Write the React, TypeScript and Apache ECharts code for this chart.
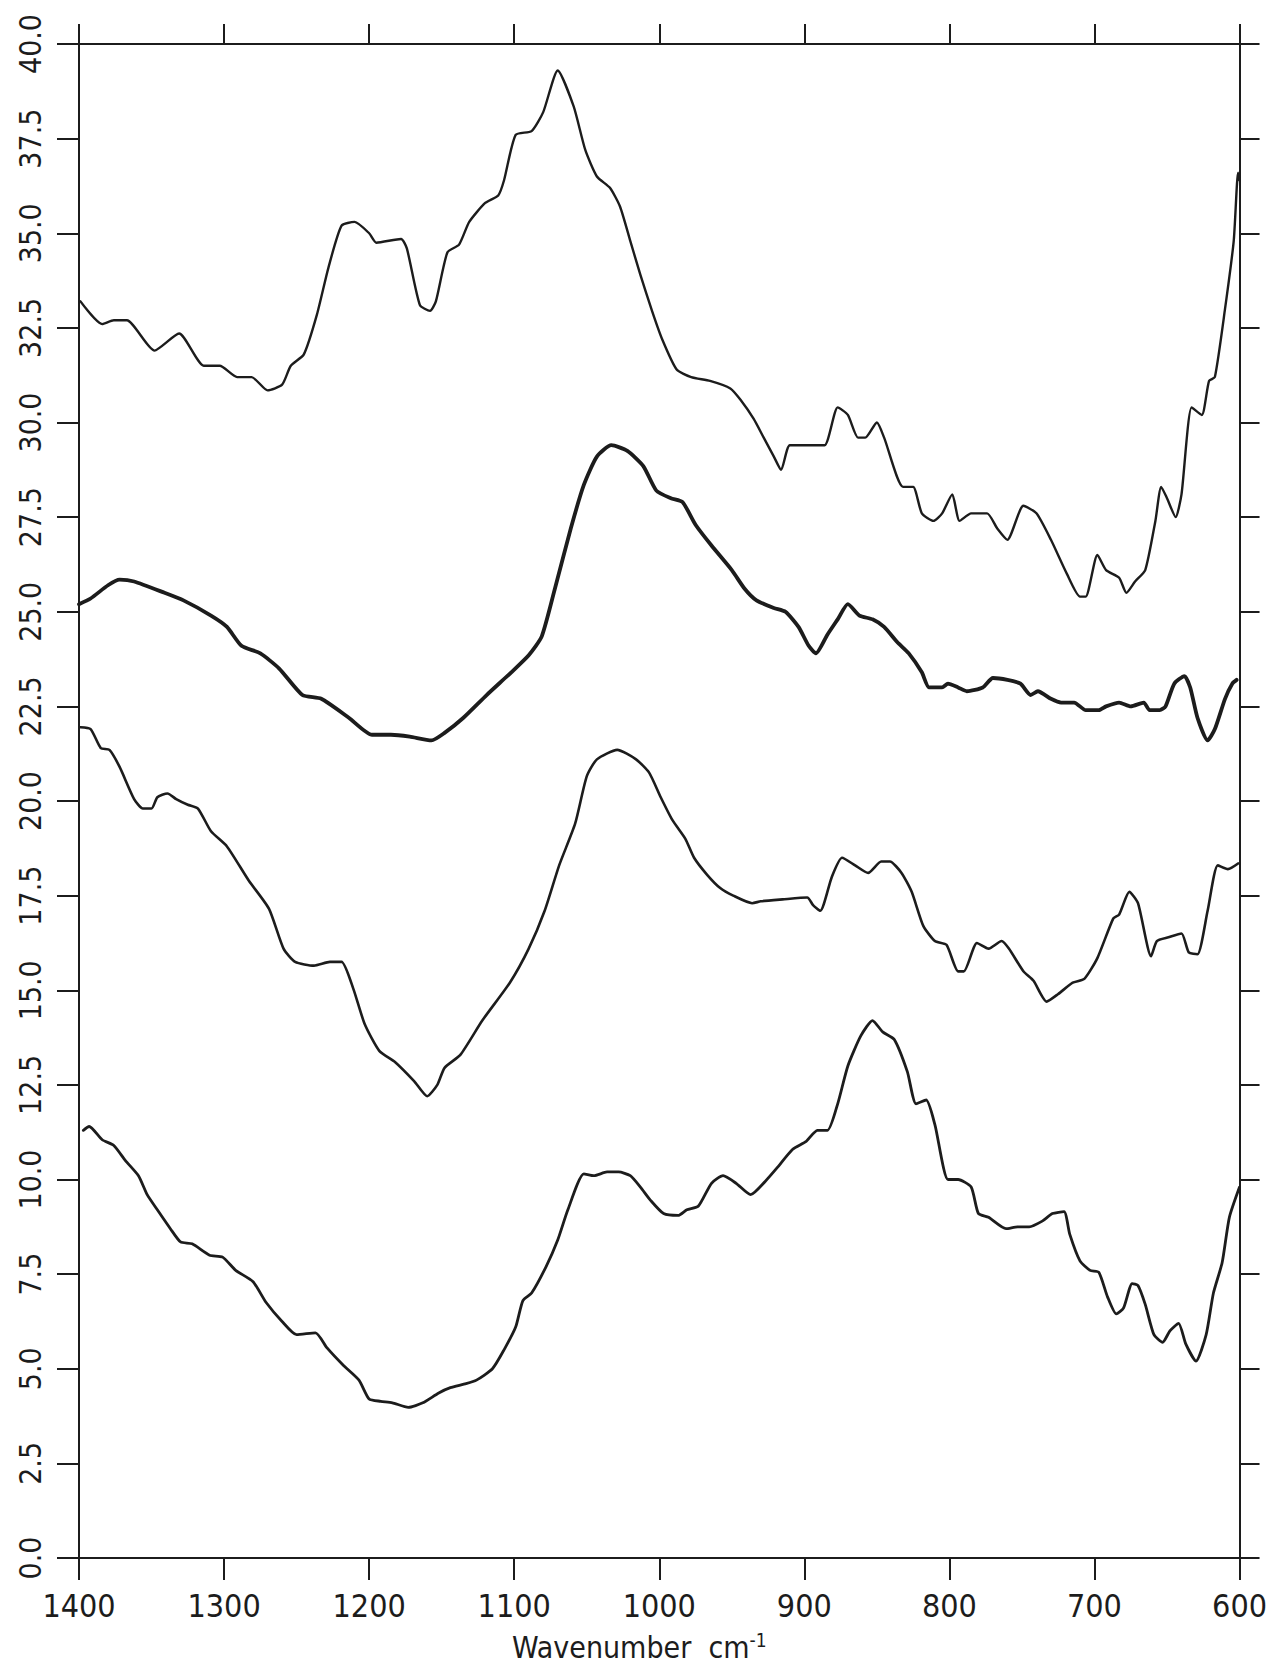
import React, { useEffect, useRef } from "react";
import * as echarts from "echarts";

// Wavenumber axis (cm-1) and absorbance-like axis limits / ticks
const xTicks = [1400, 1300, 1200, 1100, 1000, 900, 800, 700, 600];
const yTickLabels = ["0.0", "2.5", "5.0", "7.5", "10.0", "12.5", "15.0", "17.5", "20.0", "22.5", "25.0", "27.5", "30.0", "32.5", "35.0", "37.5", "40.0"];

// Spectrum 1 (top, thin)
const spectrumTop: [number, number][] = [
  [1399, 33.2], [1384, 32.6], [1376, 32.7], [1367, 32.7], [1348, 31.9], [1331, 32.35], [1314, 31.5], [1303, 31.5],
  [1291, 31.2], [1281, 31.2], [1270, 30.85], [1260, 31.0], [1254, 31.5], [1245, 31.8], [1236, 32.85], [1228, 34.1],
  [1219, 35.2], [1210, 35.3], [1200, 35.0], [1195, 34.75], [1178, 34.85], [1174, 34.6], [1165, 33.1], [1158, 32.95],
  [1154, 33.2], [1146, 34.5], [1138, 34.7], [1131, 35.3], [1120, 35.8], [1111, 36.0], [1107, 36.4], [1099, 37.6],
  [1088, 37.7], [1080, 38.2], [1070, 39.3], [1059, 38.35], [1051, 37.2], [1043, 36.5], [1034, 36.2], [1027, 35.7],
  [1020, 34.8], [1013, 33.9], [1005, 32.95], [998, 32.2], [988, 31.4], [978, 31.2], [965, 31.1], [951, 30.9],
  [944, 30.6], [935, 30.1], [928, 29.6], [921, 29.1], [916, 28.75], [910, 29.4], [896, 29.4], [886, 29.4],
  [877, 30.4], [870, 30.2], [863, 29.6], [858, 29.6], [850, 30.0], [845, 29.6], [832, 28.3], [825, 28.3],
  [819, 27.6], [811, 27.4], [805, 27.6], [798, 28.1], [793, 27.4], [785, 27.6], [774, 27.6], [767, 27.2],
  [760, 26.9], [749, 27.8], [740, 27.6], [730, 26.9], [719, 26.0], [710, 25.4], [706, 25.4], [698, 26.5],
  [692, 26.1], [683, 25.9], [678, 25.5], [672, 25.8], [665, 26.1], [658, 27.4], [654, 28.3], [650, 28.0],
  [644, 27.5], [640, 28.1], [633, 30.4], [626, 30.2], [621, 31.1], [617, 31.2], [610, 33.0], [604, 34.8],
  [601, 36.6], [600, 36.4],
];

// Spectrum 2 (thick)
const spectrumThick: [number, number][] = [
  [1400, 25.2], [1392, 25.35], [1380, 25.7], [1372, 25.85], [1362, 25.8], [1341, 25.5], [1328, 25.3], [1309, 24.9],
  [1298, 24.6], [1288, 24.1], [1275, 23.9], [1262, 23.5], [1246, 22.8], [1233, 22.7], [1214, 22.2], [1198, 21.75],
  [1185, 21.75], [1172, 21.7], [1157, 21.6], [1148, 21.8], [1135, 22.2], [1119, 22.8], [1102, 23.4], [1090, 23.85],
  [1081, 24.35], [1072, 25.6], [1061, 27.2], [1052, 28.35], [1043, 29.1], [1033, 29.4], [1022, 29.25], [1011, 28.85],
  [1002, 28.2], [992, 28.0], [984, 27.9], [975, 27.3], [964, 26.75], [950, 26.1], [941, 25.6], [933, 25.3],
  [921, 25.1], [913, 25.0], [904, 24.6], [897, 24.1], [892, 23.9], [884, 24.4], [877, 24.8], [870, 25.2],
  [862, 24.9], [853, 24.8], [845, 24.6], [836, 24.2], [828, 23.9], [819, 23.4], [814, 23.0], [805, 23.0],
  [801, 23.1], [794, 23.0], [788, 22.9], [777, 23.0], [770, 23.25], [760, 23.2], [751, 23.1], [744, 22.8],
  [739, 22.9], [730, 22.7], [723, 22.6], [714, 22.6], [706, 22.4], [697, 22.4], [692, 22.5], [683, 22.6],
  [675, 22.5], [666, 22.6], [662, 22.4], [655, 22.4], [651, 22.5], [645, 23.1], [638, 23.3], [634, 23.0],
  [629, 22.2], [622, 21.6], [617, 21.9], [610, 22.7], [605, 23.1], [602, 23.2],
];

// Spectrum 3 (third, thin)
const spectrumThird: [number, number][] = [
  [1399, 21.95], [1392, 21.9], [1385, 21.4], [1379, 21.35], [1372, 20.9], [1362, 20.05], [1356, 19.8], [1350, 19.8],
  [1346, 20.1], [1339, 20.2], [1333, 20.05], [1325, 19.9], [1318, 19.8], [1309, 19.2], [1298, 18.8], [1283, 17.9],
  [1269, 17.15], [1259, 16.1], [1251, 15.75], [1238, 15.65], [1227, 15.75], [1219, 15.75], [1211, 15.05], [1203, 14.1],
  [1193, 13.4], [1182, 13.1], [1169, 12.6], [1160, 12.2], [1153, 12.5], [1148, 12.95], [1137, 13.3], [1122, 14.2],
  [1103, 15.2], [1090, 16.1], [1079, 17.1], [1069, 18.3], [1058, 19.4], [1050, 20.65], [1043, 21.1], [1029, 21.35],
  [1016, 21.1], [1007, 20.75], [999, 20.1], [991, 19.5], [982, 19.0], [976, 18.5], [967, 18.05], [958, 17.7],
  [949, 17.5], [936, 17.3], [930, 17.35], [915, 17.4], [898, 17.45], [894, 17.25], [889, 17.1], [881, 18.0],
  [874, 18.5], [865, 18.3], [856, 18.1], [847, 18.4], [841, 18.4], [833, 18.1], [826, 17.6], [818, 16.7],
  [810, 16.3], [802, 16.2], [794, 15.5], [790, 15.5], [781, 16.25], [773, 16.1], [764, 16.3], [759, 16.1],
  [749, 15.5], [742, 15.25], [733, 14.7], [725, 14.9], [715, 15.2], [707, 15.3], [698, 15.85], [687, 16.9],
  [683, 17.0], [676, 17.6], [670, 17.3], [661, 15.9], [657, 16.3], [649, 16.4], [640, 16.5], [635, 16.0],
  [629, 15.95], [622, 17.1], [615, 18.3], [608, 18.2], [601, 18.35],
];

// Spectrum 4 (bottom)
const spectrumBottom: [number, number][] = [
  [1397, 11.3], [1393, 11.4], [1384, 11.05], [1376, 10.9], [1368, 10.5], [1359, 10.1], [1353, 9.6], [1346, 9.2],
  [1337, 8.7], [1330, 8.35], [1322, 8.3], [1310, 8.0], [1301, 7.95], [1292, 7.6], [1280, 7.3], [1271, 6.75],
  [1260, 6.25], [1250, 5.9], [1237, 5.95], [1229, 5.55], [1218, 5.1], [1207, 4.7], [1200, 4.2], [1192, 4.14],
  [1184, 4.1], [1173, 3.98], [1163, 4.1], [1152, 4.36], [1144, 4.5], [1134, 4.6], [1126, 4.7], [1115, 5.0],
  [1107, 5.5], [1099, 6.1], [1094, 6.8], [1088, 7.0], [1078, 7.7], [1070, 8.4], [1063, 9.2], [1052, 10.15],
  [1045, 10.1], [1036, 10.2], [1028, 10.2], [1020, 10.1], [1013, 9.8], [1006, 9.45], [997, 9.1], [987, 9.05],
  [981, 9.2], [973, 9.3], [964, 9.9], [956, 10.1], [947, 9.9], [937, 9.6], [927, 9.95], [919, 10.3],
  [908, 10.8], [899, 11.0], [891, 11.3], [884, 11.3], [877, 12.0], [870, 13.0], [861, 13.8], [853, 14.2],
  [846, 13.9], [838, 13.7], [829, 12.85], [823, 12.0], [816, 12.1], [810, 11.45], [801, 10.0], [794, 10.0],
  [785, 9.8], [780, 9.1], [773, 9.0], [761, 8.7], [753, 8.75], [745, 8.75], [736, 8.9], [729, 9.1],
  [721, 9.15], [717, 8.55], [710, 7.85], [703, 7.6], [697, 7.55], [691, 6.9], [685, 6.45], [680, 6.6],
  [674, 7.25], [670, 7.2], [665, 6.7], [659, 5.9], [653, 5.7], [648, 6.0], [642, 6.2], [637, 5.65],
  [630, 5.2], [623, 5.9], [618, 7.0], [612, 7.8], [607, 9.0], [600, 9.8],
];

const FONT = "'Liberation Sans Narrow', 'DejaVu Sans Condensed', 'DejaVu Sans Mono', monospace";
const INK = "#1c1c1c";

export default function App() {
  const ref = useRef<HTMLDivElement | null>(null);

  useEffect(() => {
    if (!ref.current) return;
    const chart = echarts.init(ref.current, undefined, { renderer: "svg" });
    const axisLine = { show: true, onZero: false, lineStyle: { color: INK, width: 2 } };
    const tick = (len: number) => ({ show: true, inside: false, length: len, lineStyle: { color: INK, width: 2 } });
    const xMin = xTicks[xTicks.length - 1];
    const xMax = xTicks[0];
    const yMin = parseFloat(yTickLabels[0]);
    const yMax = parseFloat(yTickLabels[yTickLabels.length - 1]);
    const lineSeries = (data: [number, number][], width: number) => ({
      type: "line",
      data,
      xAxisIndex: 0,
      yAxisIndex: 0,
      showSymbol: false,
      symbol: "none",
      smooth: 0.2,
      lineStyle: { color: INK, width, join: "round", cap: "round" },
      emphasis: { disabled: true },
    });

    chart.setOption({
      animation: false,
      backgroundColor: "#ffffff",
      grid: { left: 79, right: 30, top: 44, bottom: 101, containLabel: false },
      xAxis: [
        {
          type: "value",
          position: "bottom",
          min: xMin,
          max: xMax,
          interval: 100,
          inverse: true,
          axisLine,
          axisTick: tick(22),
          axisLabel: {
            margin: 32,
            fontSize: 32,
            fontFamily: FONT,
            color: INK,
            formatter: (v: number) => String(Math.round(v)),
          },
          splitLine: { show: false },
          name: "{n|Wavenumber  cm}{s|-1}",
          nameLocation: "middle",
          nameGap: 72,
          nameTextStyle: {
            padding: [0, 40, 0, 0],
            rich: {
              n: { fontSize: 30, fontFamily: FONT, color: INK, lineHeight: 34 },
              s: { fontSize: 19, fontFamily: FONT, color: INK, verticalAlign: "top", lineHeight: 34 },
            },
          },
        },
        {
          type: "value",
          position: "top",
          min: xMin,
          max: xMax,
          interval: 100,
          inverse: true,
          axisLine,
          axisTick: tick(20),
          axisLabel: { show: false },
          splitLine: { show: false },
        },
      ],
      yAxis: [
        {
          type: "value",
          position: "left",
          min: yMin,
          max: yMax,
          interval: 2.5,
          axisLine,
          axisTick: tick(22),
          axisLabel: {
            rotate: 90,
            margin: 34,
            fontSize: 30,
            fontFamily: FONT,
            color: INK,
            formatter: (v: number) => yTickLabels[Math.round(v / 2.5)] ?? v.toFixed(1),
          },
          splitLine: { show: false },
        },
        {
          type: "value",
          position: "right",
          min: yMin,
          max: yMax,
          interval: 2.5,
          axisLine,
          axisTick: tick(20),
          axisLabel: { show: false },
          splitLine: { show: false },
        },
      ],
      series: [
        lineSeries(spectrumTop, 2.4),
        lineSeries(spectrumThick, 3.8),
        lineSeries(spectrumThird, 2.6),
        lineSeries(spectrumBottom, 2.8),
      ],
    });

    return () => {
      chart.dispose();
    };
  }, []);

  return (
    <div
      ref={ref}
      style={{ position: "absolute", left: 0, top: 0, width: 1270, height: 1667, background: "#fff" }}
    />
  );
}
